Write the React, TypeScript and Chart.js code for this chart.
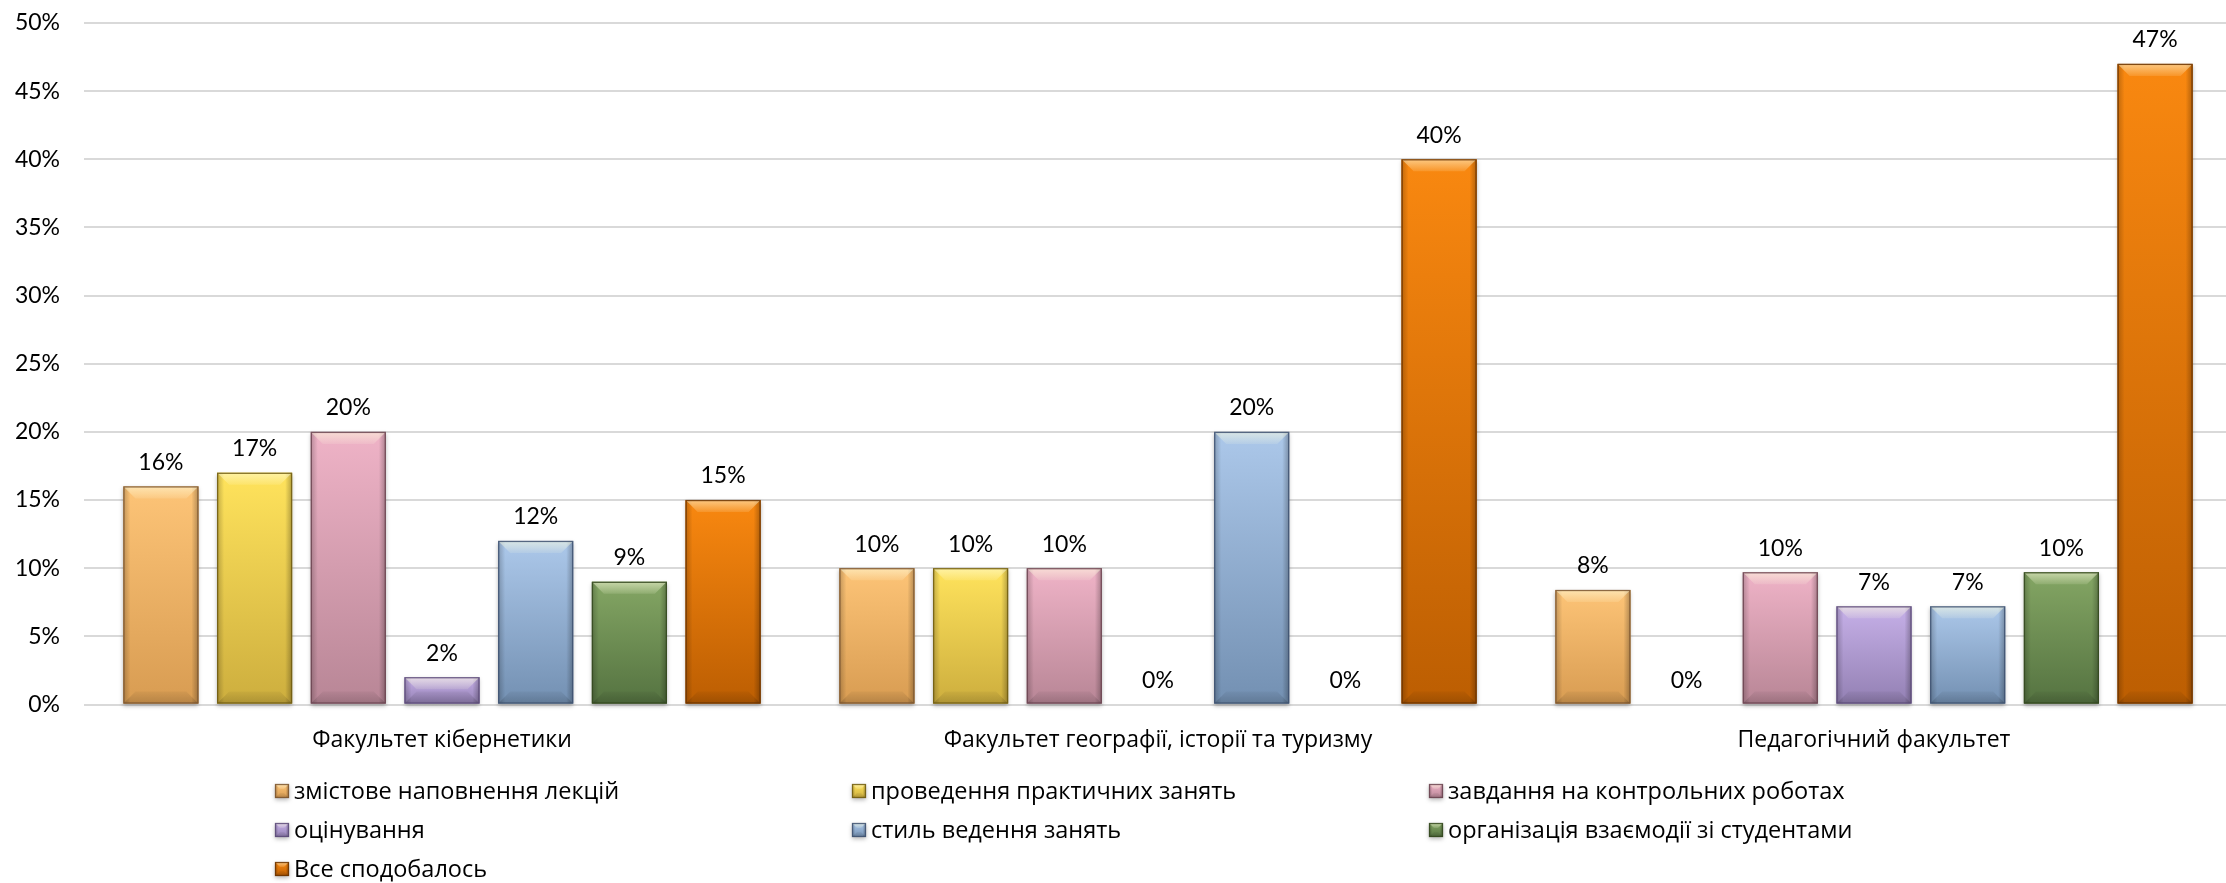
import React, { useEffect, useRef } from "react";
import { Chart, registerables } from "chart.js";

Chart.register(...registerables);

const categories = [
  "Факультет кібернетики",
  "Факультет географії, історії та туризму",
  "Педагогічний факультет",
];

const seriesNames = [
  "змістове наповнення лекцій",
  "проведення практичних занять",
  "завдання на контрольних роботах",
  "оцінування",
  "стиль ведення занять",
  "організація взаємодії зі студентами",
  "Все сподобалось",
];

const contentLectures = [16, 10, 8.4];
const practicalClasses = [17, 10, 0];
const testTasks = [20, 10, 9.7];
const grading = [2, 0, 7.2];
const teachingStyle = [12, 20, 7.2];
const interaction = [9, 0, 9.7];
const likedAll = [15, 40, 47];

const seriesValues = [
  contentLectures,
  practicalClasses,
  testTasks,
  grading,
  teachingStyle,
  interaction,
  likedAll,
];

const yTicks = [0, 5, 10, 15, 20, 25, 30, 35, 40, 45, 50];

const palette = [
  { top: "#FDC477", bottom: "#D89C52", border: "#7A5530" },
  { top: "#FFE35C", bottom: "#CDAE3E", border: "#6E5A10" },
  { top: "#EFB3C7", bottom: "#B88696", border: "#6A4450" },
  { top: "#C6B0E8", bottom: "#9380B3", border: "#5A4A78" },
  { top: "#ACC8EA", bottom: "#7390B2", border: "#3E5170" },
  { top: "#84A664", bottom: "#557341", border: "#34481F" },
  { top: "#F98810", bottom: "#BC5E02", border: "#6A3300" },
];

const NUM_FONT = '"Lato", "Open Sans", sans-serif';
const TXT_FONT = '"Open Sans", "Noto Sans", sans-serif';

function drawBevelBar(
  ctx: CanvasRenderingContext2D,
  left: number,
  top: number,
  right: number,
  bottom: number,
  c: { top: string; bottom: string; border: string },
  bevel: number
) {
  const w = right - left;
  const h = bottom - top;
  if (h < 0.5) return;
  ctx.save();
  ctx.shadowColor = "rgba(0,0,0,0.28)";
  ctx.shadowBlur = 4;
  ctx.shadowOffsetY = 2;
  const g = ctx.createLinearGradient(0, top, 0, bottom);
  g.addColorStop(0, c.top);
  g.addColorStop(1, c.bottom);
  ctx.fillStyle = g;
  ctx.fillRect(left, top, w, h);
  ctx.shadowColor = "transparent";
  ctx.shadowBlur = 0;
  ctx.shadowOffsetY = 0;

  const s = Math.min(7, w / 4);
  const lg = ctx.createLinearGradient(left, 0, left + s, 0);
  lg.addColorStop(0, "rgba(0,0,0,0.22)");
  lg.addColorStop(1, "rgba(0,0,0,0)");
  ctx.fillStyle = lg;
  ctx.fillRect(left, top, s, h);
  const rg = ctx.createLinearGradient(right - s, 0, right, 0);
  rg.addColorStop(0, "rgba(0,0,0,0)");
  rg.addColorStop(1, "rgba(0,0,0,0.28)");
  ctx.fillStyle = rg;
  ctx.fillRect(right - s, top, s, h);

  const b = Math.min(bevel, h / 2);
  const bg = ctx.createLinearGradient(0, bottom - b, 0, bottom);
  bg.addColorStop(0, "rgba(0,0,0,0.04)");
  bg.addColorStop(1, "rgba(0,0,0,0.16)");
  ctx.fillStyle = bg;
  ctx.beginPath();
  ctx.moveTo(left, bottom);
  ctx.lineTo(right, bottom);
  ctx.lineTo(right - b, bottom - b);
  ctx.lineTo(left + b, bottom - b);
  ctx.closePath();
  ctx.fill();
  const tg = ctx.createLinearGradient(0, top, 0, top + b);
  tg.addColorStop(0, "rgba(255,255,225,0.55)");
  tg.addColorStop(1, "rgba(255,255,225,0.12)");
  ctx.fillStyle = tg;
  ctx.beginPath();
  ctx.moveTo(left, top);
  ctx.lineTo(right, top);
  ctx.lineTo(right - b, top + b);
  ctx.lineTo(left + b, top + b);
  ctx.closePath();
  ctx.fill();
  ctx.strokeStyle = c.border;
  ctx.globalAlpha = 0.85;
  ctx.lineWidth = 1.3;
  ctx.strokeRect(left + 0.5, top + 0.5, w - 1, h - 1);
  ctx.restore();
}

const bevelBarsPlugin = {
  id: "bevelBars",
  afterDatasetsDraw(chart: any) {
    const ctx = chart.ctx as CanvasRenderingContext2D;
    ctx.save();
    chart.data.datasets.forEach((ds: any, di: number) => {
      const meta = chart.getDatasetMeta(di);
      if (meta.hidden) return;
      meta.data.forEach((el: any, i: number) => {
        const { x, y, base, width } = el.getProps(["x", "y", "base", "width"], true);
        drawBevelBar(ctx, x - width / 2, y, x + width / 2, base, palette[di], 12);
        const v = ds.data[i] as number;
        ctx.fillStyle = "#000";
        ctx.font = `23px ${NUM_FONT}`;
        ctx.textAlign = "center";
        ctx.textBaseline = "middle";
        ctx.fillText(`${Math.round(v)}%`, x, Math.min(y, base) - 24);
      });
    });
    ctx.restore();
  },
  afterDraw(chart: any) {
    const ctx = chart.ctx as CanvasRenderingContext2D;
    const colX = [275, 852, 1429];
    const rowY = [791, 830, 869];
    ctx.save();
    chart.data.datasets.forEach((ds: any, di: number) => {
      const col = di % 3;
      const row = Math.floor(di / 3);
      const bx = colX[col];
      const cy = rowY[row];
      drawBevelBar(ctx, bx, cy - 7, bx + 14, cy + 7, palette[di], 5);
      ctx.fillStyle = "#000";
      ctx.font = `23.5px ${TXT_FONT}`;
      ctx.textAlign = "left";
      ctx.textBaseline = "middle";
      ctx.fillText(ds.label, bx + 19, cy + 1);
    });
    ctx.restore();
  },
};

export default function App() {
  const ref = useRef<HTMLCanvasElement | null>(null);
  useEffect(() => {
    document.body.style.margin = "0";
    document.body.style.overflow = "hidden";
    const canvas = ref.current!;
    const chart = new Chart(canvas, {
      type: "bar",
      data: {
        labels: categories,
        datasets: seriesNames.map((name, i) => ({
          label: name,
          data: seriesValues[i],
          backgroundColor: palette[i].top,
          borderWidth: 0,
          barPercentage: 0.8,
          categoryPercentage: 0.916,
        })),
      },
      options: {
        responsive: false,
        animation: false,
        devicePixelRatio: 1,
        layout: { padding: { top: 23, right: 0, left: 0, bottom: 0 } },
        plugins: {
          legend: { display: false },
          tooltip: { enabled: false },
        },
        scales: {
          x: {
            grid: { display: false, drawTicks: false },
            border: { display: false },
            ticks: {
              padding: 22,
              color: "#000",
              font: { family: TXT_FONT, size: 23 },
              maxRotation: 0,
              autoSkip: false,
            },
            afterFit: (s: any) => {
              s.height = 178.5;
            },
          },
          y: {
            min: 0,
            max: 50,
            grid: { color: "#D9D9D9", lineWidth: 2, drawTicks: false },
            border: { display: false },
            afterBuildTicks: (s: any) => {
              s.ticks = yTicks.map((v) => ({ value: v }));
            },
            ticks: {
              padding: 24,
              color: "#000",
              font: { family: NUM_FONT, size: 23 },
              callback: (v: any) => `${v}%`,
            },
            afterFit: (s: any) => {
              s.width = 84;
              s.paddingTop = 0;
              s.paddingBottom = 0;
            },
          },
        },
      },
      plugins: [bevelBarsPlugin],
    });
    return () => chart.destroy();
  }, []);
  return (
    <canvas
      ref={ref}
      width={2232}
      height={883}
      style={{ display: "block", width: "2232px", height: "883px" }}
    />
  );
}
